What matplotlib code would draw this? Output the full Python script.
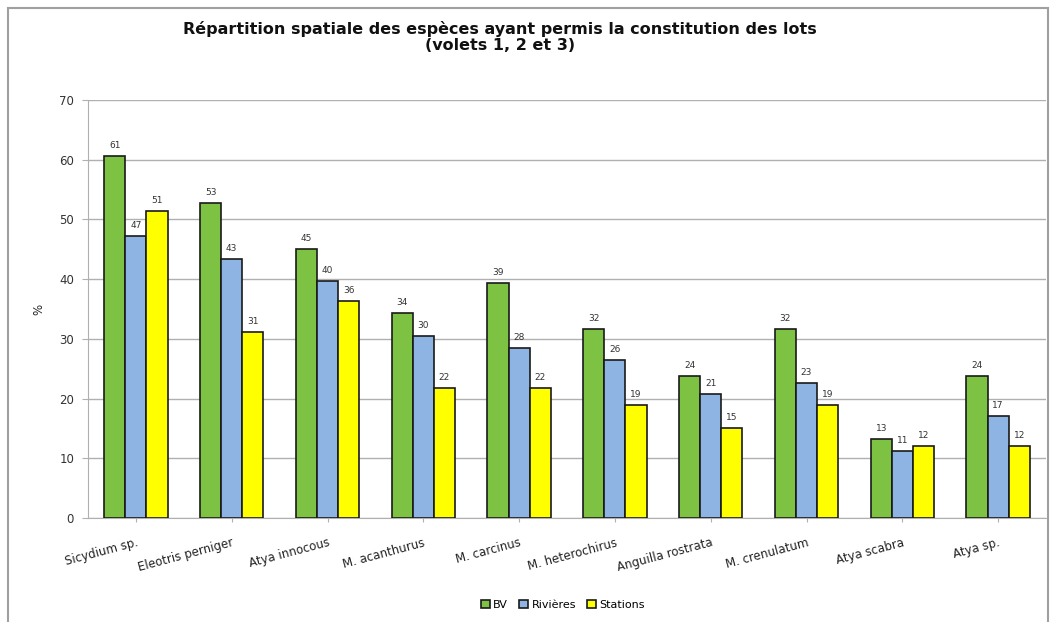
import matplotlib
matplotlib.use("Agg")
import matplotlib.pyplot as plt
import numpy as np
from matplotlib.patches import Rectangle

categories = ["Sicydium sp.", "Eleotris perniger", "Atya innocous", "M. acanthurus",
              "M. carcinus", "M. heterochirus", "Anguilla rostrata", "M. crenulatum",
              "Atya scabra", "Atya sp."]
bv = [60.6, 52.8, 45.0, 34.3, 39.4, 31.7, 23.8, 31.7, 13.2, 23.8]
rivieres = [47.2, 43.4, 39.7, 30.4, 28.4, 26.4, 20.8, 22.6, 11.2, 17.1]
stations = [51.4, 31.1, 36.4, 21.8, 21.8, 18.9, 15.0, 18.9, 12.1, 12.1]
series_names = ["BV", "Rivières", "Stations"]
yticks = [0, 10, 20, 30, 40, 50, 60, 70]

colors = ["#7DC242", "#8DB4E2", "#FFFF00"]

fig = plt.figure(figsize=(10.57, 6.22), dpi=100)
W, H = 1057, 622
ax = fig.add_axes([88 / W, 1 - 518 / H, (1046 - 88) / W, (518 - 100) / H])

x = np.arange(len(categories))
bw = 0.22
for i, (vals, name, c) in enumerate(zip([bv, rivieres, stations], series_names, colors)):
    pos = x + (i - 1) * bw
    ax.bar(pos, vals, width=bw, color=c, edgecolor="#1a1a1a", linewidth=1.2,
           label=name, zorder=3)
    for p, v in zip(pos, vals):
        ax.text(p, v + 1.0, f"{round(v)}", ha="center", va="bottom", fontsize=6.5,
                color="#333333", zorder=4)

ax.set_xlim(-0.5, len(categories) - 0.5)
ax.set_ylim(0, 70)
ax.set_yticks(yticks)
ax.set_yticklabels([str(t) for t in yticks], fontsize=8.5, color="#333333")
ax.yaxis.grid(True, color="#b0b0b0", linewidth=1.0, zorder=0)
ax.set_axisbelow(True)
for s in ["top", "right"]:
    ax.spines[s].set_visible(False)
ax.spines["left"].set_color("#b0b0b0")
ax.spines["bottom"].set_color("#b0b0b0")
ax.tick_params(axis="y", length=4, color="#b0b0b0", pad=6)
ax.set_xticks(x)
ax.set_xticklabels(categories, rotation=15, ha="right", rotation_mode="anchor",
                   fontsize=8.5, color="#222222")
ax.tick_params(axis="x", length=3, color="#b0b0b0", pad=10)
ax.set_ylabel("%", fontsize=8.5, labelpad=10, color="#222222")

fig.text(500 / W, 1 - 37 / H, "Répartition spatiale des espèces ayant permis la constitution des lots\n(volets 1, 2 et 3)",
         ha="center", va="center", fontsize=11.5, fontweight="bold", color="#111111",
         linespacing=1.15)

fig.legend(loc="center", bbox_to_anchor=(563 / W, 1 - 605 / H), ncol=3, frameon=False,
           fontsize=8, handlelength=0.8, handleheight=0.8, handletextpad=0.3,
           columnspacing=1.0)

fig.patches.append(Rectangle((8 / W, -0.01), (1048 - 8) / W, 1 - 8 / H + 0.01,
                             transform=fig.transFigure, fill=False,
                             edgecolor="#a0a0a0", linewidth=1.5))

fig.savefig("out.png", dpi=100)
